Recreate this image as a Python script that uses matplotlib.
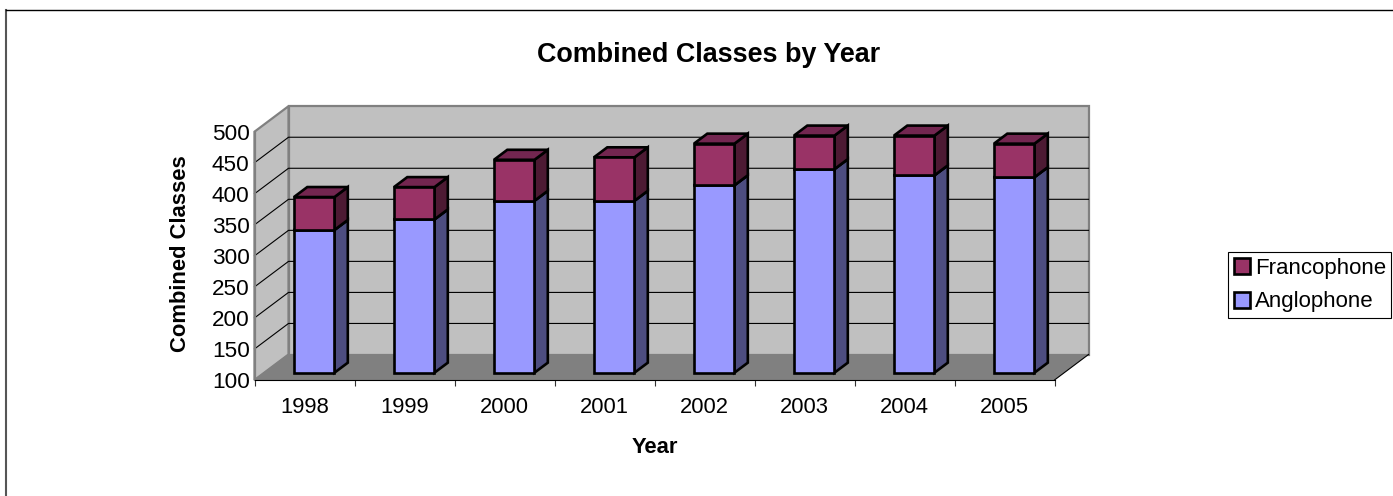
import matplotlib
matplotlib.use("Agg")
import matplotlib.pyplot as plt
from matplotlib.lines import Line2D
from matplotlib.patches import Patch

plt.rcParams['font.family'] = ['Liberation Sans', 'DejaVu Sans']

years = ['1998', '1999', '2000', '2001', '2002', '2003', '2004', '2005']
anglophone = [330, 347, 377, 377, 402, 428, 418, 415]
francophone = [53, 52, 66, 70, 67, 54, 64, 54]
y_ticks = [100, 150, 200, 250, 300, 350, 400, 450, 500]

W, H = 1393, 496
fig = plt.figure(figsize=(W / 100, H / 100), dpi=100, facecolor='white')
L, R, T, B = 254.5, 1054.5, 131.7, 380.0
ax = fig.add_axes([L / W, 1 - B / H, (R - L) / W, (B - T) / H])
ax.set_xlim(0, len(years))
ax.set_ylim(100, 500)
ax.patch.set_visible(False)

# oblique projection: depth 0 is the front plane, depth 1 the back wall
DX = 34.0 / ((R - L) / len(years))
DY = 25.5 / ((B - T) / 400)
def P(x, y, d):
    return (x + d * DX, y + d * DY)

xmin, xmax = 0, len(years)
ymin, ymax = 100, 500
def poly(pts, **kw):
    xs, ys = zip(*pts)
    ax.fill(xs, ys, clip_on=False, **kw)

# walls
poly([P(xmin, ymin, 1), P(xmax, ymin, 1), P(xmax, ymax, 1), P(xmin, ymax, 1)],
     facecolor='#c0c0c0', edgecolor='#808080', linewidth=1.6, zorder=1)
poly([P(xmin, ymin, 0), P(xmin, ymin, 1), P(xmin, ymax, 1), P(xmin, ymax, 0)],
     facecolor='#c0c0c0', edgecolor='#808080', linewidth=1.6, zorder=1)
poly([P(xmin, ymin, 0), P(xmax, ymin, 0), P(xmax, ymin, 1), P(xmin, ymin, 1)],
     facecolor='#808080', edgecolor='none', zorder=1.5)
ax.plot(*zip(P(xmax, ymin, 0), P(xmax, ymin, 1)), color='black', lw=0.8, clip_on=False, zorder=1.6)
ax.plot(*zip(P(xmin, ymin, 0), P(xmin, ymin, 1)), color='#808080', lw=0.8, clip_on=False, zorder=1.6)

# gridlines
for v in y_ticks[1:-1]:
    ax.plot(*zip(P(xmin, v, 0), P(xmin, v, 1), P(xmax, v, 1)), color='black', lw=0.8,
            clip_on=False, zorder=2, solid_joinstyle='miter')

# stacked prisms
BAR_W = 0.405
D0, D1 = 0.286, 0.678
def prism(cx, y0, y1, face, side, top):
    x0, x1 = cx - BAR_W / 2, cx + BAR_W / 2
    kw = dict(edgecolor='black', linewidth=1.9, joinstyle='miter', zorder=3)
    poly([P(x1, y0, D0), P(x1, y0, D1), P(x1, y1, D1), P(x1, y1, D0)], facecolor=side, **kw)
    poly([P(x0, y1, D0), P(x1, y1, D0), P(x1, y1, D1), P(x0, y1, D1)], facecolor=top, **kw)
    poly([P(x0, y0, D0), P(x1, y0, D0), P(x1, y1, D0), P(x0, y1, D0)], facecolor=face, **kw)

for i, (a, f) in enumerate(zip(anglophone, francophone)):
    c = i + 0.5
    prism(c, ymin, a, '#9999ff', '#4d4d80', '#4d4d80')
    prism(c, a, a + f, '#993366', '#4d1a33', '#732650')

# axes furniture
for s in ('top', 'right'):
    ax.spines[s].set_visible(False)
ax.spines['left'].set_color('#808080')
ax.spines['left'].set_linewidth(1.6)
ax.spines['bottom'].set_color('black')
ax.spines['bottom'].set_linewidth(0.8)
ax.set_zorder(2)
ax.set_xticks(range(len(years) + 1))
ax.set_xticklabels([''] * (len(years) + 1))
ax.set_xticks([i + 0.5 for i in range(len(years))], labels=years, minor=True)
ax.tick_params(axis='x', which='major', length=4, width=0.8, color='#333333')
ax.tick_params(axis='x', which='minor', length=0, labelsize=15.8, pad=12.5)
ax.set_yticks(y_ticks)
ax.tick_params(axis='y', length=0, labelsize=16.2, pad=3.5)
ax.set_xlabel('Year', fontsize=15.8, fontweight='bold', labelpad=13.5)
ax.set_ylabel('Combined Classes', fontsize=15.8, fontweight='bold', labelpad=14.8, y=0.508)

fig.text(708.5 / W, 1 - 55 / H, 'Combined Classes by Year', fontsize=19.4, fontweight='bold',
         ha='center', va='center')

# chart-area border (top and left only)
fig.add_artist(Line2D([5.5 / W, 5.5 / W], [0, 1 - 9.5 / H], color='#555555', lw=1.5))
fig.add_artist(Line2D([5.5 / W, 1], [1 - 9.5 / H, 1 - 9.5 / H], color='black', lw=1.0))

handles = [Patch(facecolor='#993366', edgecolor='black', linewidth=1.9, label='Francophone'),
           Patch(facecolor='#9999ff', edgecolor='black', linewidth=1.9, label='Anglophone')]
leg = fig.legend(handles=handles, loc='center left', bbox_to_anchor=(1228 / W, 1 - 285 / H),
                 fontsize=16, frameon=True, fancybox=False, edgecolor='black', framealpha=1,
                 borderaxespad=0, borderpad=0.25, handlelength=0.75, handleheight=0.75,
                 handletextpad=0.2, labelspacing=0.58)
leg.get_frame().set_linewidth(0.8)

fig.savefig('out.png', dpi=100)
